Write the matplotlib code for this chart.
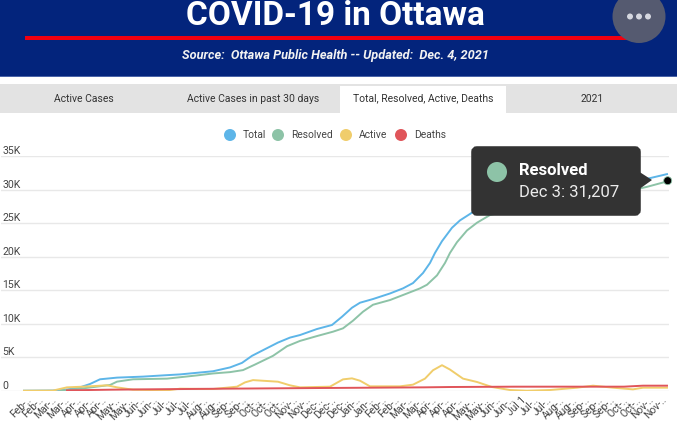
import numpy as np
import matplotlib
matplotlib.use('Agg')
import matplotlib.pyplot as plt
from matplotlib.patches import Rectangle, Ellipse, Polygon, FancyBboxPatch

# days since first reported case
total_days = [0, 29, 44, 56, 66, 76, 93, 119, 141, 156, 173, 189, 206, 218, 228, 239, 254, 266, 276, 293, 308, 318, 328, 336, 349, 366, 379, 389, 399, 406, 411, 418, 428, 436, 448, 466, 496, 536, 576, 616, 626, 643]
total = [0, 30, 200, 500, 1000, 1700, 1950, 2100, 2300, 2430, 2670, 2900, 3470, 4150, 5200, 6040, 7180, 7920, 8300, 9200, 9800, 11030, 12375, 13120, 13670, 14500, 15260, 16050, 17550, 19050, 20550, 22300, 24300, 25400, 26550, 27300, 28000, 28800, 29900, 31400, 31700, 32300]

resolved_days = [36, 59, 86, 93, 109, 143, 173, 189, 206, 219, 231, 249, 263, 276, 293, 309, 319, 329, 339, 349, 366, 383, 396, 403, 413, 421, 426, 433, 443, 453, 466, 486, 516, 556, 596, 623, 643]
resolved = [0, 350, 850, 1350, 1700, 1800, 2280, 2570, 2770, 3070, 3900, 5200, 6630, 7425, 8150, 8800, 9300, 10440, 11780, 12820, 13520, 14500, 15260, 15800, 17200, 19050, 20550, 22150, 23900, 25050, 26200, 26900, 27500, 28300, 29500, 30400, 31207]

active_days = [0, 29, 43, 59, 83, 93, 109, 143, 156, 189, 213, 221, 229, 254, 266, 276, 306, 313, 319, 328, 336, 346, 376, 389, 401, 409, 418, 426, 439, 453, 468, 486, 503, 526, 553, 569, 589, 609, 619, 643]
active = [0, 20, 500, 600, 800, 500, 150, 50, 300, 250, 600, 1240, 1580, 1340, 800, 500, 600, 1190, 1690, 1840, 1490, 650, 650, 900, 1800, 3050, 3800, 3150, 1800, 1300, 550, 100, 0, 100, 450, 750, 450, 200, 450, 450]

deaths_days = [43, 86, 120, 200, 296, 400, 426, 490, 600, 619, 643]
deaths = [50, 150, 200, 300, 400, 500, 550, 600, 600, 750, 750]

y_ticks = [0, 5000, 10000, 15000, 20000, 25000, 30000, 35000]
y_labels = ['0', '5K', '10K', '15K', '20K', '25K', '30K', '35K']

x_labels = ['Feb-..', 'Feb-..', 'Mar-..', 'Mar-..', 'Apr-..', 'Apr-..', 'Apr-..', 'May-..', 'May-..', 'Jun-..',
            'Jun-..', 'Jul-..', 'Jul-..', 'Jul-..', 'Aug-..', 'Aug-..', 'Sep-..', 'Sep-..', 'Oct-..', 'Oct-..',
            'Oct-..', 'Nov-..', 'Nov-..', 'Dec-..', 'Dec-..', 'Dec-..', 'Jan-..', 'Jan-..', 'Feb-..', 'Feb-..',
            'Mar-..', 'Mar-..', 'Apr-..', 'Apr-..', 'Apr-..', 'May-..', 'May-..', 'Jun-..', 'Jun-..', 'Jul 1',
            'Jul-..', 'Jul-..', 'Aug-..', 'Aug-..', 'Sep-..', 'Sep-..', 'Sep-..', 'Oct-..', 'Oct-..', 'Nov-..', 'Nov-..']

tab_labels = ['Active Cases', 'Active Cases in past 30 days', 'Total, Resolved, Active, Deaths', '2021']
tab_x = [84, 253, 423, 592]

names = ['Total', 'Resolved', 'Active', 'Deaths']
colors = ['#5db5e8', '#8dc3a7', '#f0cd6b', '#e0555a']
legend_x = [230, 278, 346, 401]

W, H = 677, 422
plt.rcParams['font.family'] = ['Roboto', 'DejaVu Sans']

fig = plt.figure(figsize=(W / 100, H / 100), dpi=100)

# plot area in pixels: x 1-669, y 156-390.7
ax = fig.add_axes([1 / W, 1 - 390.7 / H, 668 / W, 234.7 / H])
ax.plot(total_days, total, color=colors[0], lw=1.4)
ax.plot(resolved_days, resolved, color=colors[1], lw=1.4)
ax.plot(active_days, active, color=colors[2], lw=1.4)
ax.plot(deaths_days, deaths, color=colors[3], lw=1.4)
ax.set_xlim(-23, 645)
ax.set_ylim(0, 35000)
for s in ax.spines.values():
    s.set_visible(False)
ax.grid(axis='y', color='#e8e8e8', lw=1)
ax.set_axisbelow(True)
ax.set_yticks(y_ticks)
ax.set_yticklabels(y_labels, fontsize=7.6, color='#444444', ha='left', va='bottom')
ax.tick_params(axis='y', length=0, pad=-1)
ax.set_xticks(np.arange(len(x_labels)) * 12.7 + 2)
ax.set_xticklabels(x_labels, fontsize=7.4, color='#444444', rotation=45, ha='right', rotation_mode='anchor')
ax.tick_params(axis='x', length=0, pad=3)

# page furniture drawn in pixel coordinates on top of the chart
top = fig.add_axes([0, 0, 1, 1], zorder=3)
top.set_xlim(0, W)
top.set_ylim(H, 0)
top.axis('off')

top.add_patch(Rectangle((0, 0), W, 76, color='#03247c', lw=0))
top.add_patch(Rectangle((0, 76), W, 1, color='#4a64a8', lw=0))
top.add_patch(Rectangle((25, 36), 609, 4, color='#f00010', lw=0))
top.text(335.5, 25, 'COVID-19 in Ottawa', color='white', fontsize=24, fontweight='bold', ha='center', va='baseline')
top.text(336, 55, 'Source:  Ottawa Public Health -- Updated:  Dec. 4, 2021', color='#f2f2f2', fontsize=9.2,
         fontweight='bold', style='italic', ha='center', va='center')
top.add_patch(Ellipse((639, 16.5), 53, 53, color='#555a70', lw=0))
for x in [630, 639, 648]:
    top.add_patch(Ellipse((x, 16.5), 6, 6, color='#d5d7e0', lw=0))

top.add_patch(Rectangle((0, 84), W, 29, color='#e3e3e3', lw=0))
top.add_patch(Rectangle((340, 86), 166, 27, color='white', lw=0))
for x, label in zip(tab_x, tab_labels):
    top.text(x, 98.5, label, color='#333333', fontsize=7.5, ha='center', va='center')

for x, name, c in zip(legend_x, names, colors):
    top.add_patch(Ellipse((x, 135), 12, 12, color=c, lw=0))
    top.text(x + 13, 135, name, color='#444444', fontsize=7.4, ha='left', va='center')

# tooltip for the last Resolved point
top.add_patch(FancyBboxPatch((474, 149), 164, 64, boxstyle='round,pad=0,rounding_size=3', fc='#333333', ec='#333333', lw=4))
top.add_patch(Polygon([(638, 171), (652, 180), (638, 190)], color='#333333', lw=0))
top.add_patch(Ellipse((497, 172), 20, 20, color=colors[1], lw=0))
top.text(519, 170.5, 'Resolved', color='white', fontsize=12, fontweight='bold', ha='left', va='center')
top.text(519, 192, 'Dec 3: 31,207', color='#ececec', fontsize=12, ha='left', va='center')
top.add_patch(Ellipse((667.7, 180.7), 8, 8, fc='black', ec='#8dc3a7', lw=0.6))

fig.savefig('out.png', dpi=100)
